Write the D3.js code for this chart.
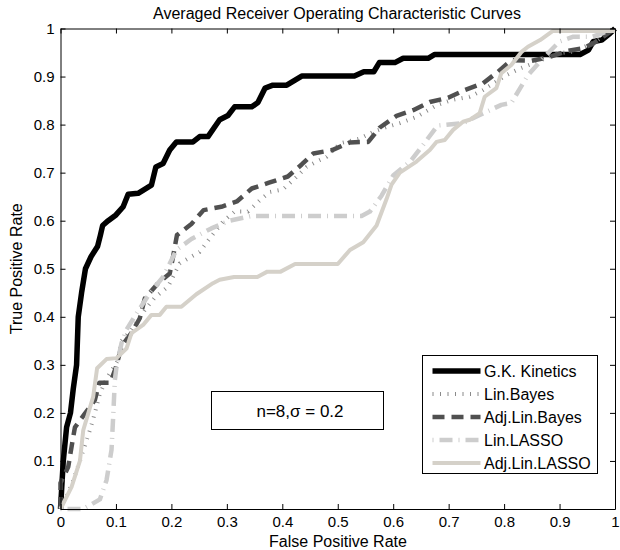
<!DOCTYPE html>
<html>
<head>
<meta charset="utf-8">
<script src="https://cdn.jsdelivr.net/npm/d3@7"></script>
<style>
  body { margin: 0; background: #fff; }
  text { font-family: "Liberation Sans", Arial, Helvetica, sans-serif; }
</style>
</head>
<body>
<svg id="chart" width="620" height="550"></svg>
<script>
// ROC curves, [false positive rate, true positive rate]
const gkKinetics = [[0,0],[0.002,0.04],[0.005,0.10],[0.011,0.17],[0.018,0.20],[0.023,0.25],[0.029,0.30],[0.032,0.40],[0.038,0.45],[0.045,0.50],[0.055,0.525],[0.067,0.547],[0.072,0.57],[0.076,0.59],[0.086,0.60],[0.10,0.612],[0.113,0.629],[0.122,0.655],[0.14,0.657],[0.164,0.674],[0.172,0.712],[0.185,0.719],[0.197,0.747],[0.209,0.764],[0.239,0.764],[0.251,0.775],[0.266,0.775],[0.287,0.81],[0.302,0.819],[0.314,0.837],[0.345,0.837],[0.356,0.846],[0.369,0.876],[0.383,0.882],[0.408,0.882],[0.435,0.901],[0.53,0.901],[0.547,0.91],[0.565,0.91],[0.575,0.929],[0.603,0.929],[0.618,0.938],[0.663,0.938],[0.675,0.946],[0.937,0.946],[0.952,0.955],[0.961,0.973],[0.976,0.976],[0.991,0.99],[1,1]];

const linBayes = [[0,0],[0.02,0.05],[0.035,0.10],[0.053,0.164],[0.062,0.2],[0.071,0.24],[0.085,0.275],[0.104,0.31],[0.11,0.35],[0.128,0.373],[0.152,0.414],[0.17,0.44],[0.194,0.463],[0.215,0.511],[0.251,0.535],[0.269,0.563],[0.293,0.598],[0.314,0.619],[0.338,0.619],[0.36,0.643],[0.378,0.66],[0.401,0.665],[0.423,0.688],[0.444,0.712],[0.462,0.723],[0.48,0.733],[0.504,0.761],[0.54,0.771],[0.564,0.785],[0.588,0.795],[0.612,0.803],[0.642,0.816],[0.678,0.84],[0.705,0.851],[0.738,0.858],[0.762,0.872],[0.804,0.903],[0.829,0.917],[0.858,0.93],[0.895,0.948],[0.925,0.952],[0.961,0.97],[1,1]];

const adjLinBayes = [[0,0],[0,0.054],[0.014,0.088],[0.02,0.13],[0.026,0.17],[0.045,0.2],[0.062,0.227],[0.07,0.263],[0.09,0.263],[0.1,0.295],[0.11,0.338],[0.13,0.37],[0.143,0.397],[0.152,0.438],[0.176,0.47],[0.197,0.49],[0.203,0.525],[0.21,0.57],[0.236,0.593],[0.258,0.622],[0.29,0.629],[0.318,0.64],[0.345,0.667],[0.376,0.679],[0.41,0.692],[0.435,0.717],[0.456,0.74],[0.49,0.747],[0.522,0.763],[0.555,0.764],[0.576,0.794],[0.606,0.818],[0.636,0.83],[0.666,0.847],[0.699,0.856],[0.729,0.872],[0.762,0.886],[0.789,0.91],[0.813,0.934],[0.85,0.933],[0.88,0.94],[0.913,0.953],[0.943,0.959],[0.961,0.969],[0.979,0.983],[1,1]];

const linLasso = [[0,0],[0.04,0],[0.056,0.01],[0.071,0.02],[0.083,0.06],[0.092,0.123],[0.095,0.192],[0.098,0.268],[0.101,0.296],[0.11,0.345],[0.119,0.373],[0.137,0.407],[0.161,0.449],[0.185,0.483],[0.209,0.539],[0.236,0.562],[0.272,0.584],[0.305,0.6],[0.345,0.61],[0.543,0.61],[0.558,0.619],[0.579,0.652],[0.6,0.694],[0.632,0.725],[0.654,0.758],[0.68,0.798],[0.726,0.803],[0.756,0.82],[0.795,0.841],[0.813,0.845],[0.829,0.876],[0.843,0.903],[0.87,0.938],[0.9,0.973],[0.925,0.983],[0.96,0.983],[1,1]];

const adjLinLasso = [[0,0],[0.02,0.046],[0.035,0.1],[0.041,0.164],[0.05,0.199],[0.059,0.234],[0.066,0.293],[0.083,0.312],[0.101,0.314],[0.119,0.334],[0.128,0.366],[0.149,0.383],[0.164,0.404],[0.179,0.404],[0.191,0.421],[0.218,0.421],[0.245,0.447],[0.275,0.47],[0.287,0.477],[0.313,0.483],[0.355,0.483],[0.373,0.494],[0.397,0.494],[0.423,0.51],[0.5,0.51],[0.522,0.539],[0.546,0.555],[0.57,0.59],[0.588,0.645],[0.597,0.675],[0.612,0.7],[0.642,0.723],[0.666,0.747],[0.678,0.764],[0.693,0.768],[0.708,0.789],[0.726,0.806],[0.738,0.81],[0.756,0.824],[0.765,0.858],[0.786,0.876],[0.795,0.907],[0.813,0.924],[0.832,0.952],[0.843,0.962],[0.865,0.976],[0.888,0.995],[1,0.995]];

const seriesNames = ['G.K. Kinetics', 'Lin.Bayes', 'Adj.Lin.Bayes', 'Lin.LASSO', 'Adj.Lin.LASSO'];
const seriesData = [gkKinetics, linBayes, adjLinBayes, linLasso, adjLinLasso];

const tickValues = [0, 0.1, 0.2, 0.3, 0.4, 0.5, 0.6, 0.7, 0.8, 0.9, 1];
const tickLabels = ['0', '0.1', '0.2', '0.3', '0.4', '0.5', '0.6', '0.7', '0.8', '0.9', '1'];

const titleText = 'Averaged Receiver Operating Characteristic Curves';
const xLabel = 'False Positive Rate';
const yLabel = 'True Positive Rate';
const noteText = 'n=8,σ = 0.2';

// line styles, one per series
const styles = [
    { color: '#000000', width: 5.5, dash: null },
    { color: '#8a8a8a', width: 4, dash: '1,6.5' },
    { color: '#505050', width: 4.5, dash: '12,7' },
    { color: '#cdcdcd', width: 4.5, dash: '1,6,13,6' },
    { color: '#d5d1c9', width: 4, dash: null },
];

const svg = d3.select('#chart');
const plotLeft = 60.5, plotRight = 615, plotTop = 28.5, plotBottom = 509;

const x = d3.scaleLinear().domain([0, 1]).range([plotLeft, plotRight]);
const y = d3.scaleLinear().domain([0, 1]).range([plotBottom, plotTop]);

const fmt = d => tickLabels[tickValues.indexOf(d)];

function drawAxis(axis, tx, ty, labels) {
    const g = svg.append('g')
        .attr('transform', `translate(${tx},${ty})`)
        .call(axis.tickValues(tickValues).tickSizeInner(-5).tickSizeOuter(0)
            .tickFormat(labels ? fmt : () => ''));
    g.select('.domain').attr('stroke', '#000').attr('stroke-width', 1);
    g.selectAll('.tick line').attr('stroke', '#000');
    g.selectAll('text').attr('font-size', 15).attr('fill', '#000')
        .attr('font-family', '"Liberation Sans", Arial, sans-serif');
    return g;
}

// white plot background
svg.append('rect').attr('x', plotLeft).attr('y', plotTop)
    .attr('width', plotRight - plotLeft).attr('height', plotBottom - plotTop).attr('fill', '#fff');

const line = d3.line().x(d => x(d[0])).y(d => y(d[1]));

svg.selectAll('path.curve')
    .data(seriesData)
    .join('path')
    .attr('class', 'curve')
    .attr('d', line)
    .attr('fill', 'none')
    .attr('stroke', (d, i) => styles[i].color)
    .attr('stroke-width', (d, i) => styles[i].width)
    .attr('stroke-dasharray', (d, i) => styles[i].dash)
    .attr('stroke-linejoin', 'round');

drawAxis(d3.axisBottom(x), 0, plotBottom, true).selectAll('text').attr('dy', '0.98em');
drawAxis(d3.axisTop(x), 0, plotTop, false);
drawAxis(d3.axisLeft(y), plotLeft, 0, true).selectAll('text').attr('dx', '-3');
drawAxis(d3.axisRight(y), plotRight, 0, false);

// title and axis labels
svg.append('text').attr('x', 337).attr('y', 18.5)
    .attr('text-anchor', 'middle').attr('font-size', 16).text(titleText);
svg.append('text').attr('x', 338).attr('y', 547)
    .attr('text-anchor', 'middle').attr('font-size', 16).text(xLabel);
svg.append('text')
    .attr('transform', `translate(21.5,${(plotTop + plotBottom) / 2}) rotate(-90)`)
    .attr('text-anchor', 'middle').attr('font-size', 16).text(yLabel);

// annotation box
svg.append('rect').attr('x', 211.5).attr('y', 391.5).attr('width', 172).attr('height', 38)
    .attr('fill', '#fff').attr('stroke', '#000');
svg.append('text').attr('x', 300).attr('y', 417)
    .attr('text-anchor', 'middle').attr('font-size', 17).text(noteText);

// legend
const legend = svg.append('g').attr('transform', 'translate(422.5,355.5)');
legend.append('rect').attr('width', 175).attr('height', 118)
    .attr('fill', '#fff').attr('stroke', '#000');
const rows = legend.selectAll('g.row')
    .data(seriesNames)
    .join('g')
    .attr('class', 'row')
    .attr('transform', (d, i) => `translate(0,${15.5 + i * 23})`);
rows.append('line')
    .attr('x1', 10).attr('x2', 58)
    .attr('stroke', (d, i) => styles[i].color)
    .attr('stroke-width', (d, i) => styles[i].width)
    .attr('stroke-dasharray', (d, i) => styles[i].dash);
rows.append('text').attr('x', 61.5).attr('y', 5.5).attr('font-size', 16).text(d => d);
</script>
</body>
</html>
